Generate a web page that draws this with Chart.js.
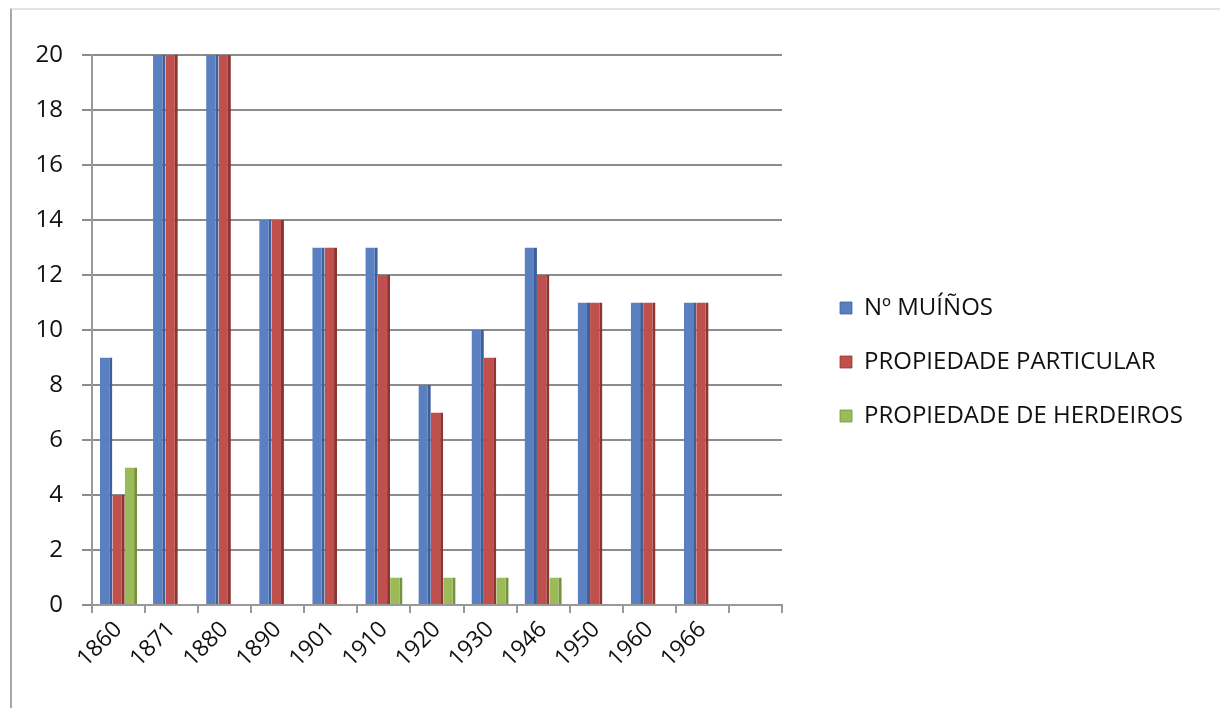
<!DOCTYPE html>
<html>
<head>
<meta charset="utf-8">
<script src="https://cdn.jsdelivr.net/npm/chart.js@4/dist/chart.umd.min.js"></script>
<style>
    html, body { margin: 0; padding: 0; background: #fff; }
    #frame { position: absolute; left: 10px; top: 8px; width: 1210px; height: 700px;
             border-left: 2px solid #a8a8a8; border-top: 2px solid #e2e2e2; }
    #wrap { position: absolute; left: 0; top: 0; width: 1220px; height: 708px; }
</style>
</head>
<body>
<div id="frame"></div>
<div id="wrap"><canvas id="chart" width="1220" height="708"></canvas></div>
<script>
    const years = ['1860', '1871', '1880', '1890', '1901', '1910', '1920', '1930', '1946', '1950', '1960', '1966', ''];
    const muinos = [9, 20, 20, 14, 13, 13, 8, 10, 13, 11, 11, 11, null];
    const particular = [4, 20, 20, 14, 13, 12, 7, 9, 12, 11, 11, 11, null];
    const herdeiros = [5, 0, 0, 0, 0, 1, 1, 1, 1, 0, 0, 0, null];
    const yTicks = [0, 2, 4, 6, 8, 10, 12, 14, 16, 18, 20];

    const FONT = '"Open Sans", Lato, sans-serif';

    function barSet(label, data, face, side) {
        return {
            label: label,
            data: data,
            yAxisID: 'y',
            backgroundColor: face,
            borderColor: side,
            borderWidth: { right: 3, top: 0, left: 0, bottom: 0 },
            borderSkipped: false,
            categoryPercentage: 0.7,
            barPercentage: 1.0
        };
    }

    // the legend is kept narrow for layout, then allowed to draw up to the canvas edge
    const wideLegend = {
        id: 'wideLegend',
        afterLayout(chart) {
            if (chart.legend) {
                chart.legend.right = chart.width - 10;
                chart.legend.width = chart.legend.right - chart.legend.left;
            }
        }
    };

    const ctx = document.getElementById('chart').getContext('2d');
    new Chart(ctx, {
        type: 'bar',
        data: {
            labels: years,
            datasets: [
                barSet('Nº MUÍÑOS', muinos, '#5b80c2', '#3f5f99'),
                barSet('PROPIEDADE PARTICULAR', particular, '#c0504d', '#8e3532'),
                barSet('PROPIEDADE DE HERDEIROS', herdeiros, '#9bbb59', '#76923c')
            ]
        },
        plugins: [wideLegend],
        options: {
            responsive: false,
            animation: false,
            layout: { padding: { top: 55, right: 260, bottom: 39, left: 0 } },
            plugins: {
                tooltip: { enabled: false },
                legend: {
                    position: 'right',
                    maxWidth: 150,
                    labels: {
                        boxWidth: 12,
                        boxHeight: 12,
                        padding: 30,
                        color: '#111',
                        font: { family: FONT, size: 24 }
                    }
                }
            },
            scales: {
                x: {
                    grid: { offset: true, drawOnChartArea: false, color: '#999', lineWidth: 2, tickLength: 8 },
                    border: { color: '#999', width: 2 },
                    ticks: {
                        color: '#111',
                        font: { family: FONT, size: 23 },
                        maxRotation: 45,
                        minRotation: 45,
                        padding: 3
                    },
                    afterFit: s => { s.height = 64; }
                },
                y: {
                    min: 0,
                    max: 20,
                    afterBuildTicks: s => { s.ticks = yTicks.map(v => ({ value: v })); },
                    grid: { color: '#8c8c8c', lineWidth: 2, tickLength: 10 },
                    border: { color: '#999', width: 2 },
                    ticks: {
                        color: '#111',
                        font: { family: FONT, size: 24 },
                        padding: 19
                    },
                    afterFit: s => { s.width = 92; }
                },
                // empty strip between the plot and the legend
                gap: {
                    axis: 'y',
                    position: 'right',
                    grid: { display: false },
                    border: { display: false },
                    ticks: { display: false },
                    afterFit: s => { s.width = 28; }
                }
            }
        }
    });
</script>
</body>
</html>
